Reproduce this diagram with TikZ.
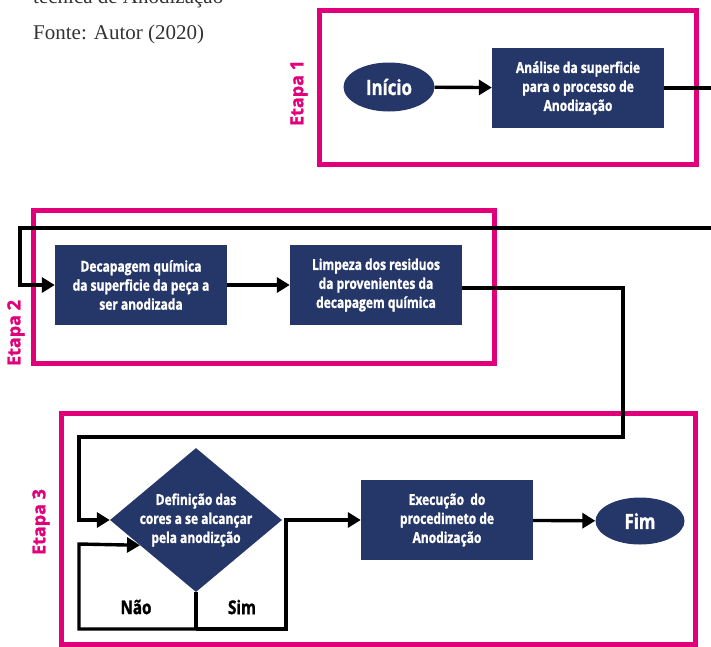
\documentclass[tikz,border=0pt]{standalone}
\usepackage{fontspec}
\setmainfont{Liberation Serif}
\newfontfamily\boxfont[FakeStretch=0.8, FakeBold=1.3]{Open Sans}
\newfontfamily\etapafont[FakeBold=1.2]{Open Sans}
\usepackage{xcolor}
\usepackage{tikz}
\usetikzlibrary{arrows.meta, positioning, shapes.geometric, calc}
\definecolor{navy}{HTML}{253668}
\definecolor{etapapink}{HTML}{E2007A}
\definecolor{fontegray}{HTML}{333333}

\begin{document}
\begin{tikzpicture}[x=1pt, y=-1pt,
    blk/.style={fill=navy, text=white, font=\boxfont\bfseries\fontsize{15}{19}\selectfont, align=center, minimum width=172pt, minimum height=80pt, inner sep=0pt},
    ovl/.style={ellipse, fill=navy, text=white, font=\boxfont\bfseries\fontsize{21}{24}\selectfont, inner sep=0pt},
    dia/.style={diamond, fill=navy, minimum width=172pt, minimum height=144pt, inner sep=0pt},
    etapabox/.style={draw=etapapink, line width=5pt},
    etapa/.style={text=etapapink, font=\etapafont\bfseries\fontsize{18}{20}\selectfont, rotate=90},
    lbl/.style={font=\boxfont\bfseries\fontsize{19}{22}\selectfont},
    ln/.style={line width=3.4pt},
    arr/.style={ln, -{Triangle[length=13pt, width=15pt]}}
]
\useasboundingbox (0,0) rectangle (711,646);

% Fonte
\node[font=\fontsize{21}{23}\selectfont, text=fontegray, anchor=base west, inner sep=0pt] (legenda) at (33,3) {técnica de Anodização};
\node[font=\fontsize{21}{23}\selectfont, text=fontegray, anchor=base west, inner sep=0pt] (fonte) at (33,39) {Fonte: Autor (2020)};

% Etapa 1
\draw[etapabox] (319.5,10.5) rectangle (696,164);
\node[etapa] (et1) at (299,93) {Etapa 1};
\node[ovl, minimum width=91pt, minimum height=49pt] (inicio) at (389,87) {Início};
\node[blk] (analise) at (578,88) {Análise da superficie\\para o processo de\\Anodização};

% Etapa 2
\draw[etapabox] (33,210) rectangle (494,363);
\node[etapa] (et2) at (16,333) {Etapa 2};
\node[blk] (decap) at (141,285) {Decapagem química\\da superficie da peça a\\ser anodizada};
\node[blk] (limpeza) at (376,285) {Limpeza dos residuos\\da provenientes da\\decapagem química};

% Etapa 3
\draw[etapabox] (61,413) rectangle (695,644);
\node[etapa] (et3) at (41,522) {Etapa 3};
\node[dia] (defin) at (196,520) {};
\node[text=white, font=\boxfont\bfseries\fontsize{15}{19}\selectfont, align=center] (definTxt) at (defin) {Definição das\\cores a se alcançar\\pela anodizção};
\node[blk] (exec) at (447,520) {Execução\ \ do\\procedimeto de\\Anodização};
\node[ovl, minimum width=89pt, minimum height=47pt] (fim) at (640,521) {Fim};
\node[lbl] (nao) at (136,607) {Não};
\node[lbl] (sim) at (242,607) {Sim};

% Ligacoes
\coordinate (saidaR) at (730,228);
\coordinate (voltaL) at (20,228);
\coordinate (desceR) at (623,437);
\coordinate (entraL) at (79,437);
\coordinate (split) at (196,629);
\coordinate (naoL) at (79,544);
\coordinate (simB) at (286,629);
\path (defin.west) -- (defin.south) coordinate[pos=0.35] (naoIn);

\draw[arr] (inicio) -- (analise);
\draw[arr] (analise.east) -| (saidaR) -- (voltaL) |- (decap.west);
\draw[arr] (decap) -- (limpeza);
\draw[arr] ([yshift=-3pt]limpeza.east) -| (desceR) -- (entraL) |- (defin.west);
\draw[ln] (defin.south) -- (split);
\draw[arr] (split) -| (naoL) -- (naoIn);
\draw[arr] (split) -- (simB) |- (exec.west);
\draw[arr] (exec) -- (fim);

\end{tikzpicture}
\end{document}
